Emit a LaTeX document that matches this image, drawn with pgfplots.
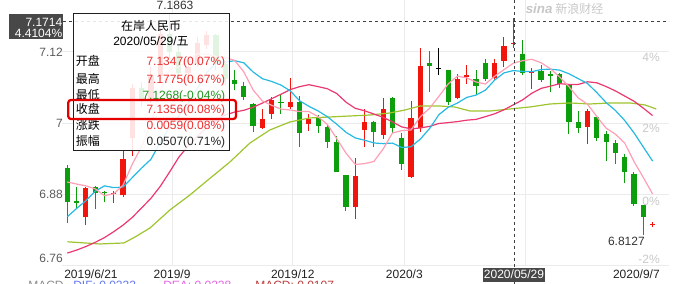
\documentclass[border=0pt]{standalone}
\usepackage{fontspec}
\setmainfont{Liberation Sans}
\newfontfamily\cjk{Noto Sans CJK SC}
\usepackage{pgfplots}
\usepackage{pgfplotstable}
\pgfplotsset{compat=1.18}

\definecolor{cred}{RGB}{240,22,14}
\definecolor{cgreen}{RGB}{12,158,12}
\definecolor{ma5}{RGB}{255,158,181}
\definecolor{ma10}{RGB}{38,186,226}
\definecolor{ma20}{RGB}{236,56,112}
\definecolor{ma60}{RGB}{158,196,46}
\definecolor{gridc}{RGB}{235,235,235}
\definecolor{tickc}{RGB}{90,90,90}
\definecolor{xtc}{RGB}{34,34,34}
\definecolor{pctc}{RGB}{200,200,200}
\definecolor{tred}{RGB}{238,48,48}
\definecolor{tgreen}{RGB}{30,150,30}
\definecolor{darkbox}{RGB}{72,72,72}

% weekly candles: index, open, high, low, close
\pgfplotstableread{
i o h l c
2 6.842 6.893 6.829 6.892
5 6.881 6.887 6.867 6.883
6 6.879 6.955 6.876 6.940
7 6.975 7.066 6.945 7.060
9 7.040 7.095 7.035 7.080
10 7.080 7.160 7.075 7.150
13 7.085 7.110 7.075 7.095
14 7.100 7.145 7.095 7.135
15 7.132 7.155 7.125 7.148
21 6.993 7.025 6.991 7.007
22 7.016 7.044 7.007 7.039
24 7.027 7.076 7.025 7.0365
26 6.9995 7.015 6.987 7.007
31 6.860 6.942 6.839 6.912
32 6.989 7.025 6.960 7.003
34 6.9805 7.043 6.974 7.025
37 6.910 7.038 6.909 7.009
38 6.992 7.126 6.986 7.0965
42 7.042 7.083 7.0405 7.0746
43 7.0785 7.098 7.067 7.0813
46 7.076 7.109 7.073 7.102
47 7.105 7.145 7.095 7.1297
48 7.1347 7.1775 7.1268 7.1356
50 7.084 7.093 7.057 7.087
56 6.9945 7.024 6.965 7.020
63 6.8296 6.8345 6.8255 6.8313
}\redT

\pgfplotstableread{
i o h l c
0 6.925 6.930 6.833 6.868
1 6.869 6.893 6.858 6.867
3 6.893 6.895 6.856 6.883
4 6.885 6.886 6.868 6.883
8 7.060 7.070 7.030 7.040
11 7.150 7.1863 7.110 7.120
12 7.120 7.130 7.075 7.085
16 7.148 7.150 7.090 7.100
17 7.100 7.105 7.065 7.075
18 7.073 7.090 7.056 7.066
19 7.062 7.070 7.039 7.044
20 7.033 7.034 6.986 6.996
23 7.0365 7.048 7.016 7.034
25 7.0365 7.046 6.961 6.983
27 7.010 7.014 6.983 6.996
28 6.9945 6.999 6.958 6.968
29 6.969 6.978 6.918 6.919
30 6.913 6.914 6.853 6.860
33 7.003 7.004 6.960 6.986
35 7.043 7.044 6.983 6.993
36 6.976 6.983 6.922 6.932
39 7.101 7.122 7.052 7.097
41 7.090 7.090 7.031 7.0365
44 7.074 7.090 7.047 7.063
45 7.101 7.108 7.071 7.075
49 7.117 7.140 7.081 7.084
51 7.088 7.098 7.070 7.073
52 7.0825 7.088 7.052 7.080
53 7.0825 7.084 7.060 7.066
54 7.066 7.066 6.982 7.002
55 7.003 7.020 6.984 6.993
57 7.011 7.012 6.971 6.976
58 6.982 6.987 6.937 6.969
59 6.967 6.972 6.932 6.951
60 6.943 6.948 6.900 6.919
61 6.9145 6.919 6.861 6.8645
62 6.863 6.863 6.8127 6.842
}\greenT

\pgfplotstableread{
i o h l c
40 7.0918 7.126 7.081 7.0935
}\blackT

\pgfplotstableread{
i v
0 6.9015
1 6.898
2 6.895
3 6.890
4 6.8786
5 6.8816
6 6.8962
7 6.9316
8 6.961
9 7.0006
10 7.054
11 7.090
12 7.095
13 7.106
14 7.117
15 7.1166
16 7.1126
17 7.1106
18 7.106
19 7.0866
20 7.0562
21 7.0376
22 7.0304
23 7.024
24 7.0225
25 7.0199
26 7.0199
27 7.0113
28 6.9981
29 6.9746
30 6.950
31 6.931
32 6.9324
33 6.936
34 6.957
35 6.9838
36 6.9878
37 6.989
38 7.0111
39 7.0255
40 7.0454
41 7.0663
42 7.0794
43 7.0764
44 7.0696
45 7.0661
46 7.0792
47 7.0902
48 7.1011
49 7.1053
50 7.1077
51 7.1019
52 7.0919
53 7.078
54 7.0616
55 7.0428
56 7.0322
57 7.0114
58 6.992
59 6.9818
60 6.967
61 6.9359
62 6.9091
63 6.8814
}\maFive

\pgfplotstableread{
i v
0 6.843
1 6.857
2 6.870
3 6.886
4 6.895
5 6.892
6 6.893
7 6.909
8 6.925
9 6.9396
10 6.9678
11 6.9931
12 7.0124
13 7.0336
14 7.0588
15 7.0853
16 7.1013
17 7.1028
18 7.1054
19 7.1018
20 7.0864
21 7.0751
22 7.0705
23 7.0644
24 7.0546
25 7.0381
26 7.0288
27 7.0209
28 7.0111
29 6.9986
30 6.985
31 6.9755
32 6.9718
33 6.9671
34 6.9659
35 6.9669
36 6.9594
37 6.9607
38 6.9736
39 6.9914
40 7.0146
41 7.0271
42 7.0342
43 7.0437
44 7.0476
45 7.0558
46 7.0728
47 7.0848
48 7.0887
49 7.0874
50 7.0869
51 7.0905
52 7.0911
53 7.0895
54 7.0834
55 7.0752
56 7.067
57 7.0517
58 7.035
59 7.0217
60 7.0049
61 6.9841
62 6.9603
63 6.9367
}\maTen

\pgfplotstableread{
i v
0 6.782
1 6.787
2 6.793
3 6.800
4 6.808
5 6.818
6 6.829
7 6.842
8 6.858
9 6.874
10 6.894
11 6.918
12 6.943
13 6.962
14 6.978
15 6.993
16 7.005
17 7.014
18 7.019
19 7.0220
20 7.0271
21 7.0341
22 7.0415
23 7.049
24 7.0567
25 7.0617
26 7.065
27 7.0618
28 7.0582
29 7.0502
30 7.0357
31 7.0253
32 7.0212
33 7.0157
34 7.0102
35 7.0025
36 6.9941
37 6.9908
38 6.9923
39 6.995
40 6.9998
41 7.0013
42 7.003
43 7.0054
44 7.0067
45 7.0113
46 7.0161
47 7.0228
48 7.0311
49 7.0394
50 7.0507
51 7.0588
52 7.0626
53 7.0667
54 7.0655
55 7.0655
56 7.0699
57 7.0682
58 7.0619
59 7.0546
60 7.0459
61 7.0373
62 7.0257
63 7.0131
}\maTwenty

\pgfplotstableread{
i v
0 6.8010
3.5 6.7973
6.1 6.7990
7.3 6.8091
8.9 6.8242
11.05 6.8545
13.2 6.8797
15.4 6.9082
17.5 6.9351
19.66 6.9670
21.8 6.9889
23.97 7.0024
26.1 7.0091
28.28 7.0108
30.4 7.0124
32.6 7.0141
34.74 7.0175
36.35 7.0225
37.96 7.0292
40.1 7.0292
41.7 7.0276
43.35 7.0208
45.5 7.0208
47.65 7.0242
49.8 7.0276
51.96 7.0326
54.1 7.0343
56.26 7.0326
58.4 7.0343
60.6 7.0343
62.2 7.0309
63.4 7.0242
}\maSixty

\begin{document}
\begin{tikzpicture}
\begin{axis}[
  at={(0,0)}, anchor=south west, scale only axis,
  width=455.25pt, height=199.5pt,
  xmin=-0.57, xmax=64.77, ymin=6.7603, ymax=7.2074,
  axis line style={draw=none},
  major tick length=0pt,
  ytick={6.88,7,7.12}, yticklabels={6.88,7,7.12},
  extra y ticks={6.7603}, extra y tick labels={6.76},
  extra y tick style={yticklabel style={yshift=6pt}},
  xtick={11.28,24.27,36.28,49.34}, xticklabels={2019/9,2019/12,2020/3,{}},
  grid=major, major grid style={draw=gridc, line width=0.75pt},
  yticklabel style={anchor=east, inner sep=0pt, xshift=0.75pt, font=\fontsize{9}{10}\selectfont, text=tickc},
  xticklabel style={anchor=base, inner sep=0pt, yshift=-9.6pt, font=\fontsize{9}{10}\selectfont, text=xtc},
  /pgf/number format/assume math mode=true,
]
% wicks
\addplot[cred, line width=0.75pt, quiver={u=0, v=\thisrow{h}-\thisrow{l}}] table[x=i, y=l]{\redT};
\addplot[cgreen, line width=0.75pt, quiver={u=0, v=\thisrow{h}-\thisrow{l}}] table[x=i, y=l]{\greenT};
\addplot[black, line width=0.75pt, quiver={u=0, v=\thisrow{h}-\thisrow{l}}] table[x=i, y=l]{\blackT};
% bodies
\addplot[cred, line width=3.9pt, quiver={u=0, v=\thisrow{c}-\thisrow{o}}] table[x=i, y=o]{\redT};
\addplot[cgreen, line width=3.9pt, quiver={u=0, v=\thisrow{c}-\thisrow{o}}] table[x=i, y=o]{\greenT};
\addplot[black, line width=3.9pt, quiver={u=0, v=\thisrow{c}-\thisrow{o}}] table[x=i, y=o]{\blackT};
% moving averages
\addplot[ma60, line width=0.9pt] table[x=i, y=v]{\maSixty};
\addplot[ma20, line width=0.9pt] table[x=i, y=v]{\maTwenty};
\addplot[ma10, line width=0.9pt] table[x=i, y=v]{\maTen};
\addplot[ma5, line width=0.9pt] table[x=i, y=v]{\maFive};
% crosshair horizontal at 7.1714
\draw[black!75, line width=0.75pt, dash pattern=on 2.25pt off 2.25pt] (axis cs:-0.47,7.1714) -- (axis cs:64.77,7.1714);
\end{axis}

\begin{scope}[x=0.75pt, y=-0.75pt, shift={(-46.5pt,199.5pt)}, font=\fontsize{9}{10}\selectfont]
% vertical crosshair
\draw[black!75, line width=0.75pt, dash pattern=on 2.25pt off 2.25pt] (514,0) -- (514,284);
% tooltip
\fill[white, fill opacity=0.88] (73.3,14) rectangle (229.3,151);
\draw[black!88, line width=0.75pt] (73.3,14) rectangle (229.3,151);
\node[anchor=base, inner sep=0pt] at (151,31) {\cjk 在岸人民币};
\node[anchor=base, inner sep=0pt] at (151,46) {2020/05/29/{\cjk 五}};
\foreach \lab/\yy in {开盘/66, 最高/83.3, 最低/99.3, 收盘/113.3, 涨跌/129.3, 振幅/146}
  \node[anchor=base west, inner sep=0pt] at (75.7,\yy) {\cjk \lab};
\node[anchor=base east, inner sep=0pt, text=tred] at (225.5,66) {7.1347(0.07\%)};
\node[anchor=base east, inner sep=0pt, text=tred] at (225.5,83.3) {7.1775(0.67\%)};
\node[anchor=base east, inner sep=0pt, text=tgreen] at (225.5,99.3) {7.1268(-0.04\%)};
\node[anchor=base east, inner sep=0pt, text=tred] at (225.5,113.3) {7.1356(0.08\%)};
\node[anchor=base east, inner sep=0pt, text=tred] at (225.5,129.3) {0.0059(0.08\%)};
\node[anchor=base east, inner sep=0pt, text=black!85] at (225.5,146) {0.0507(0.71\%)};
\draw[red!90!black, line width=1.7pt, rounded corners=2pt] (68.3,100) rectangle (236,119);
% price label at crosshair
\fill[darkbox] (9.3,14.3) rectangle (63.3,39.3);
\node[anchor=base east, inner sep=0pt, text=white] at (62.5,26.3) {7.1714};
\node[anchor=base east, inner sep=0pt, text=white] at (62.5,37.3) {4.4104\%};
% extreme labels
\node[anchor=base, inner sep=0pt, text=black!80] at (175,9.3) {7.1863};
\node[anchor=base east, inner sep=0pt, text=black!80] at (645,246) {6.8127};
% right percent labels
\node[anchor=base east, inner sep=0pt, text=pctc] at (660,61.3) {4\%};
\node[anchor=base east, inner sep=0pt, text=pctc] at (660,133) {2\%};
\node[anchor=base east, inner sep=0pt, text=pctc] at (660,205.3) {0\%};
\node[anchor=base east, inner sep=0pt, text=pctc] at (660,263.8) {-2\%};
% x labels at the ends and the crosshair date
\node[anchor=base west, inner sep=0pt, text=xtc] at (64,279) {2019/6/21};
\node[anchor=base east, inner sep=0pt, text=xtc] at (660,279) {2020/9/7};
\fill[darkbox] (482.7,267.7) rectangle (545,282.5);
\node[anchor=base, inner sep=0pt, text=white] at (514,279) {2020/05/29};
% watermark
\node[anchor=base west, inner sep=0pt, text=black!22, font=\fontsize{10}{10}\selectfont\bfseries\itshape] at (525.5,13.3) {sina};
\node[anchor=base west, inner sep=0pt, text=black!22] at (555,13.6) {\cjk 新浪财经};
% MACD line (cut by the bottom edge)
\node[anchor=base west, inner sep=0pt, text=black!45] at (28,289.6) {MACD};
\node[anchor=base west, inner sep=0pt, text={rgb,255:red,100;green,120;blue,240}] at (73,289.6) {DIF: 0.0232};
\node[anchor=base west, inner sep=0pt, text={rgb,255:red,230;green,100;blue,230}] at (163,289.6) {DEA: 0.0228};
\node[anchor=base west, inner sep=0pt, text={rgb,255:red,190;green,60;blue,60}] at (255,289.6) {MACD: 0.0107};
\pgfresetboundingbox
\useasboundingbox (0,0) rectangle (699,284);
\end{scope}
\end{tikzpicture}
\end{document}
